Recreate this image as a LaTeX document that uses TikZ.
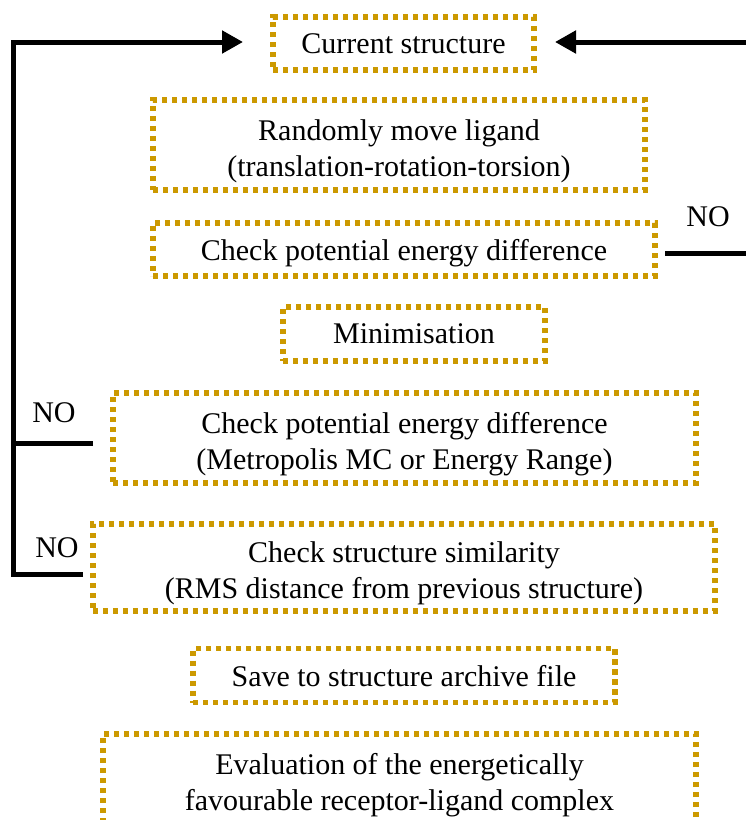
\documentclass[tikz,border=0pt]{standalone}
\usepackage{fontspec}
\setmainfont{Liberation Serif}
\usetikzlibrary{arrows.meta}
\definecolor{gold}{RGB}{204,153,0}
\begin{document}
\begin{tikzpicture}[x=1pt,y=-1pt,
  stepbox/.style={draw=gold, line width=5.2pt, dash pattern=on 5.4pt off 4.6pt,
    rectangle, inner sep=0pt, align=center, font=\fontsize{30}{36}\selectfont, text=black,
    text depth=0pt},
  twoline/.style={text height=62pt, text depth=0pt},
  flow/.style={line width=5pt, draw=black},
  tip/.style={-{Triangle[length=21pt,width=22pt]}},
  nolabel/.style={font=\fontsize{30}{36}\selectfont, inner sep=0pt}]
\useasboundingbox (0,0) rectangle (746,820);
\clip (0,0) rectangle (746,820);
\node[stepbox, minimum width=261pt, minimum height=53pt] (cur) at (403.5,43.5) {Current structure};
\node[stepbox, twoline, minimum width=492pt, minimum height=90pt] (move) at (399,145) {Randomly move ligand\\(translation-rotation-torsion)};
\node[stepbox, minimum width=502pt, minimum height=53pt] (chk1) at (404,249.5) {Check potential energy difference};
\node[stepbox, minimum width=262pt, minimum height=54pt] (mini) at (414,334) {Minimisation};
\node[stepbox, twoline, minimum width=583pt, minimum height=90pt] (chk2) at (404.5,438) {Check potential energy difference\\(Metropolis MC or Energy Range)};
\node[stepbox, twoline, minimum width=622pt, minimum height=87pt] (sim) at (404,567.5) {Check structure similarity\\(RMS distance from previous structure)};
\node[stepbox, text depth=-2pt, minimum width=422pt, minimum height=54pt] (save) at (404,675.5) {Save to structure archive file};
\node[stepbox, twoline, minimum width=593pt, minimum height=90pt] (eval) at (399.5,779) {Evaluation of the energetically\\favourable receptor-ligand complex};
% right loop
\coordinate (r1) at (665,253);
\coordinate (r1e) at (760,253);
\coordinate (r0) at (760,42);
\coordinate (rtip) at (555,42);
\draw[flow] (r1) -- (r1e);
\draw[flow, tip] (r0) -- (rtip);
\node[nolabel] (no0) at (708,217) {NO};
% left loop
\coordinate (l1) at (93,443);
\coordinate (l2) at (83,574);
\coordinate (lc) at (13,574);
\coordinate (lt) at (13,42);
\coordinate (ltip) at (243,42);
\draw[flow] (l1) -- (13,443);
\draw[flow, tip, line join=miter] (l2) -- (lc) -- (lt) -- (ltip);
\node[nolabel] (no1) at (54,413) {NO};
\node[nolabel] (no2) at (57,548) {NO};
\end{tikzpicture}
\end{document}
